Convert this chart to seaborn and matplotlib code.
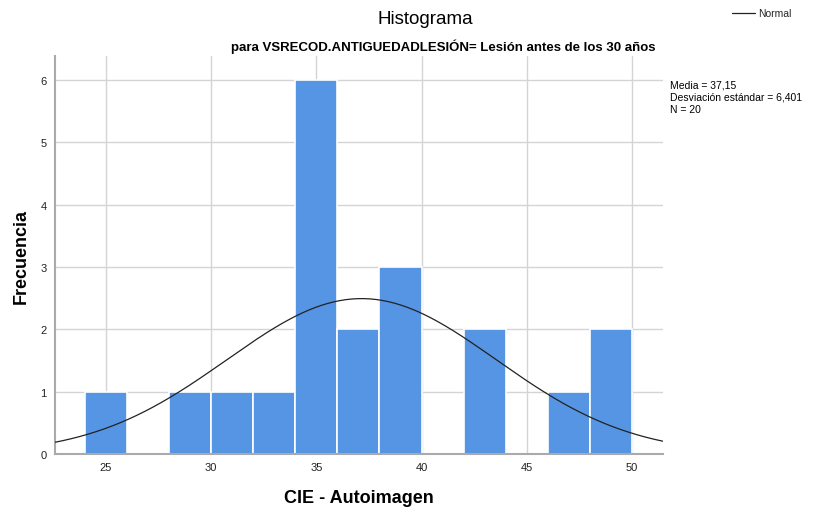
import numpy as np
import pandas as pd
import matplotlib.pyplot as plt
import seaborn as sns

# Histogram bins (width 2) and counts
bin_edges = [24, 26, 28, 30, 32, 34, 36, 38, 40, 42, 44, 46, 48, 50]
counts = [1, 0, 1, 1, 1, 6, 2, 3, 0, 2, 0, 1, 2]
media = 37.15
desv = 6.401
n_total = 20

sns.set_theme(style="whitegrid")
plt.rcParams['font.family'] = ['Liberation Sans', 'DejaVu Sans']

df = pd.DataFrame({
    'centro': [(a + b) / 2 for a, b in zip(bin_edges[:-1], bin_edges[1:])],
    'frecuencia': counts,
})

fig = plt.figure(figsize=(8.17, 5.10), dpi=100)
ax = fig.add_axes([0.0673, 0.108, 0.744, 0.78])

sns.histplot(data=df, x='centro', weights='frecuencia', bins=bin_edges,
             color='#5595e4', alpha=1, edgecolor='white', linewidth=1.2, ax=ax, zorder=2)

# Normal curve scaled to counts
xs = np.linspace(22.58, 51.47, 300)
ys = n_total * 2 / (desv * np.sqrt(2 * np.pi)) * np.exp(-0.5 * ((xs - media) / desv) ** 2)
sns.lineplot(x=xs, y=ys, color='#222222', linewidth=0.9, ax=ax, zorder=3, label='Normal')

ax.set_xlim(22.58, 51.47)
ax.set_ylim(0, 6.385)
ax.set_xticks([25, 30, 35, 40, 45, 50])
ax.set_yticks(range(0, 7))
ax.tick_params(axis='both', labelsize=8, length=0, pad=6, colors='#222222')
ax.grid(True, color='#d4d4d4', linewidth=1)
ax.set_axisbelow(True)
for s in ['top', 'right']:
    ax.spines[s].set_visible(False)
for s in ['left', 'bottom']:
    ax.spines[s].set_color('#aaaaaa')
    ax.spines[s].set_linewidth(1.5)

ax.set_xlabel('CIE - Autoimagen', fontsize=13, fontweight='bold', labelpad=12, color='black')
ax.set_ylabel('Frecuencia', fontsize=13, fontweight='bold', labelpad=8, color='black')

fig.text(0.52, 0.962, 'Histograma', ha='center', va='center', fontsize=13.5, color='black')
fig.text(0.542, 0.908, 'para VSRECOD.ANTIGUEDADLESIÓN= Lesión antes de los 30 años',
         ha='center', va='center', fontsize=9.5, fontweight='bold', color='black')
fig.text(0.82, 0.843, 'Media = 37,15\nDesviación estándar = 6,401\nN = 20',
         ha='left', va='top', fontsize=7.5, linespacing=1.3, color='black')

leg = ax.legend(loc='upper left', bbox_to_anchor=(0.885, 1.0), bbox_transform=fig.transFigure,
                frameon=False, fontsize=7.5, handlelength=2.2, handletextpad=0.3)

fig.savefig('out.png', dpi=100)
